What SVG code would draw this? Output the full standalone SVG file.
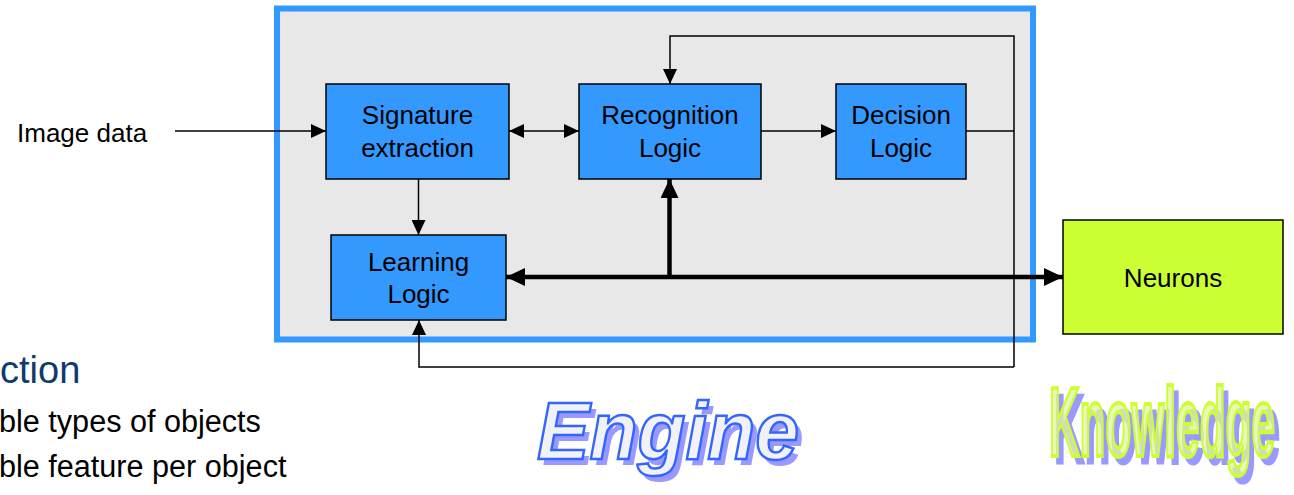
<svg xmlns="http://www.w3.org/2000/svg" width="1294" height="495" viewBox="0 0 1294 495">
<defs>
<style>
.node{fill:#3399ff;stroke:#000;stroke-width:1.5}
.lbl{font-family:"Liberation Sans",Arial,sans-serif;font-size:26px;fill:#000;text-anchor:middle}
.thin{fill:none;stroke:#000;stroke-width:1.5}
.thick{fill:none;stroke:#000;stroke-width:4.5}
.body{font-family:"Liberation Sans",Arial,sans-serif;fill:#000}
</style>
<marker id="ah" viewBox="0 0 15 14" refX="15" refY="7" markerWidth="15" markerHeight="14" markerUnits="userSpaceOnUse" orient="auto-start-reverse">
<path d="M0,0 L15,7 L0,14 Z" fill="#000"/>
</marker>
<marker id="ahb" viewBox="0 0 19 18" refX="19" refY="9" markerWidth="19" markerHeight="18" markerUnits="userSpaceOnUse" orient="auto-start-reverse">
<path d="M0,0 L19,9 L0,18 Z" fill="#000"/>
</marker>
</defs>
<rect width="1294" height="495" fill="#fff"/>
<g id="engine-box">
<rect x="277" y="8.5" width="756" height="331" fill="#e8e8e8" stroke="#3399ff" stroke-width="6"/>
</g>
<g id="connectors">
<line class="thin" x1="175" y1="131" x2="326" y2="131" marker-end="url(#ah)"/>
<line class="thin" x1="509" y1="131" x2="579" y2="131" marker-start="url(#ah)" marker-end="url(#ah)"/>
<line class="thin" x1="761" y1="131" x2="836" y2="131" marker-end="url(#ah)"/>
<line class="thin" x1="418.5" y1="179" x2="418.5" y2="235" marker-end="url(#ah)"/>
<polyline class="thin" points="966,131 1014,131"/>
<polyline class="thin" points="1014,367 1014,36 670,36 670,84" marker-end="url(#ah)"/>
<polyline class="thin" points="1014,367 419,367 419,320" marker-end="url(#ah)"/>
<line class="thick" x1="506" y1="277" x2="1063" y2="277" marker-start="url(#ahb)" marker-end="url(#ahb)"/>
<line class="thick" x1="669.5" y1="277" x2="669.5" y2="179" marker-end="url(#ahb)"/>
</g>
<g id="image-data">
<text class="body" x="17" y="142" font-size="26">Image data</text>
</g>
<g id="signature">
<rect class="node" x="326" y="84" width="183" height="95"/>
<text class="lbl" x="417.5" y="124">Signature</text>
<text class="lbl" x="417.5" y="157">extraction</text>
</g>
<g id="recognition">
<rect class="node" x="579" y="84" width="182" height="95"/>
<text class="lbl" x="670" y="124">Recognition</text>
<text class="lbl" x="670" y="157">Logic</text>
</g>
<g id="decision">
<rect class="node" x="836" y="84" width="130" height="95"/>
<text class="lbl" x="901" y="124">Decision</text>
<text class="lbl" x="901" y="157">Logic</text>
</g>
<g id="learning">
<rect class="node" x="331" y="235" width="175" height="85"/>
<text class="lbl" x="418.5" y="271">Learning</text>
<text class="lbl" x="418.5" y="303">Logic</text>
</g>
<g id="neurons">
<rect x="1063" y="220" width="220" height="114" fill="#ccff33" stroke="#000" stroke-width="1.5"/>
<text class="lbl" x="1173" y="287">Neurons</text>
</g>
<g id="bullets">
<text x="0" y="383" font-family="Liberation Sans,Arial,sans-serif" font-size="38" fill="#0d3b6e">ction</text>
<text class="body" x="-1" y="432" font-size="30.6">ble types of objects</text>
<text class="body" x="-1" y="477" font-size="30.6">ble feature per object</text>
</g>
<g id="engine-title" font-family="Liberation Sans,Arial,sans-serif" font-weight="bold" font-style="italic" font-size="82">
<text x="542" y="465" textLength="262" lengthAdjust="spacingAndGlyphs" fill="#9999ff">Engine</text>
<text x="537" y="459" textLength="262" lengthAdjust="spacingAndGlyphs" fill="#f2f2f6" stroke="#3366ff" stroke-width="2.5">Engine</text>
</g>
<g id="knowledge-title" font-family="Liberation Sans,Arial,sans-serif" font-weight="bold" font-size="98">
<text x="1054" y="463" textLength="226" lengthAdjust="spacingAndGlyphs" fill="#9999ff" stroke="#9999ff" stroke-width="3">Knowledge</text>
<text x="1049" y="456" textLength="226" lengthAdjust="spacingAndGlyphs" fill="#e4f59a" fill-opacity="0.75" stroke="#ccff33" stroke-width="4">Knowledge</text>
</g>
</svg>
